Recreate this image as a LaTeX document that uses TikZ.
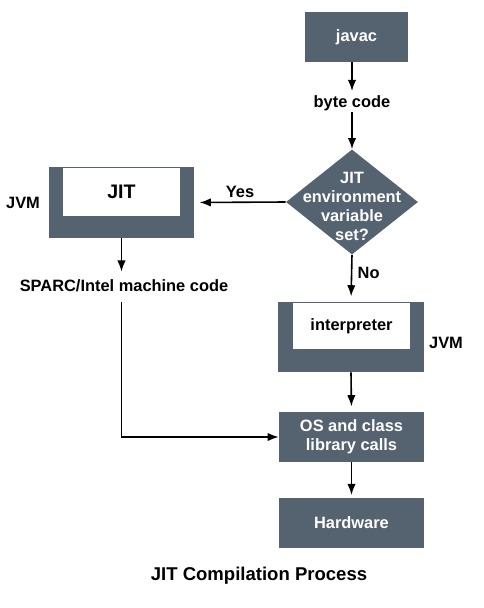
\documentclass[tikz,border=0pt]{standalone}
\usepackage{fontspec}
\setmainfont{Liberation Sans}
\usetikzlibrary{arrows.meta,shapes.geometric}
\definecolor{slate}{RGB}{85,99,112}
\begin{document}
\begin{tikzpicture}[x=0.75pt,y=-0.75pt,>=Latex,
  lbl/.style={font=\bfseries\fontsize{12.3}{14.25}\selectfont,inner sep=1pt},
  darkbox/.style={fill=slate,minimum width=108.75pt,minimum height=37.5pt,inner sep=0pt,text=white,lbl,align=center},
  whitebox/.style={fill=white,minimum width=87.75pt,inner sep=0pt,lbl},
  decision/.style={diamond,fill=slate,minimum width=99pt,minimum height=78.75pt,inner sep=0pt},
  flow/.style={->,line width=1.2pt}]
\useasboundingbox (0,0) rectangle (484,608);
% main column
\node[darkbox,minimum width=77.25pt] (javac) at (356.5,37) {javac};
\node[lbl] (bytecode) at (352,103) {byte code};
\node[decision] (decide) at (352,202) {};
\node[lbl,text=white,align=center] (decidetext) at (352,206) {JIT\\environment\\variable\\set?};
\node[darkbox,minimum width=109.5pt,minimum height=52.5pt] (interpbox) at (351,337) {};
\node[whitebox,minimum height=34.5pt] (interp) at (351.5,326) {interpreter};
\node[lbl] (jvmright) at (446,343) {JVM};
\node[darkbox] (os) at (351.5,437) {OS and class\\library calls};
\node[darkbox] (hw) at (351.5,523) {Hardware};
% JIT branch
\node[darkbox,minimum height=53.25pt] (jitbox) at (121.5,202.5) {};
\node[whitebox,minimum height=36pt,font=\bfseries\fontsize{14.7}{17}\selectfont] (jit) at (121.5,192) {JIT};
\node[lbl] (jvmleft) at (23,203) {JVM};
\node[lbl] (sparc) at (124,286) {SPARC/Intel machine code};
\node[font=\bfseries\fontsize{13.9}{16}\selectfont] (caption) at (259,576) {JIT Compilation Process};
% connectors
\draw[flow,shorten >=2pt] (javac.south -| bytecode) -- (bytecode.north);
\draw[flow] (bytecode.south) -- (decide.north);
\draw[flow,shorten >=4pt] (decide.west) -- (jitbox.east)
  node[lbl,midway,above,yshift=2pt] (yes) {Yes};
\draw[flow,shorten >=4pt] (decide.south) -- (interpbox.north)
  node[lbl,pos=0.39,right,xshift=3pt] (no) {No};
\draw[flow,shorten >=5pt] (jitbox.south) -- (jitbox.south |- sparc.north);
\draw[flow,shorten <=6pt] (sparc.south -| jitbox) |- (os.west);
\draw[flow,shorten >=4pt] (interpbox.south) -- (os.north);
\draw[flow,shorten >=2pt] (os.south) -- (hw.north);
\end{tikzpicture}
\end{document}
